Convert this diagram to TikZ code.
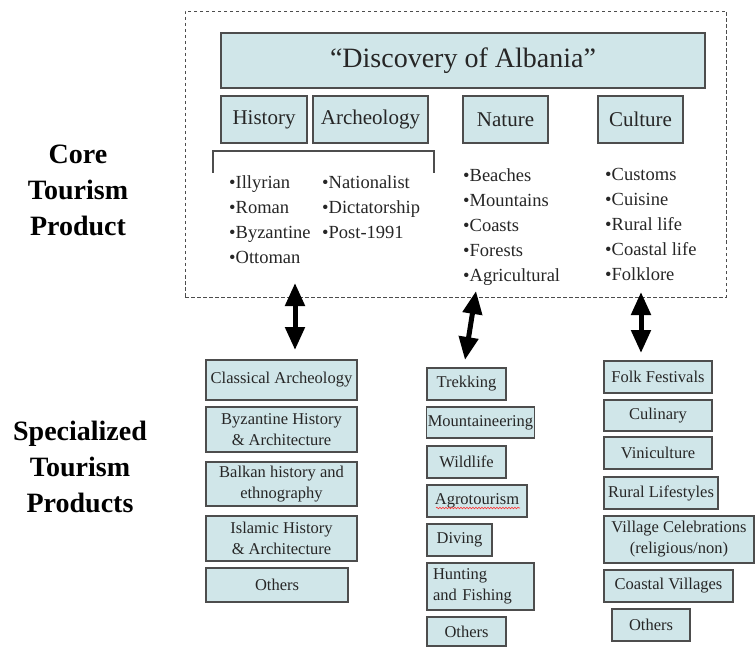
\documentclass[tikz,border=0pt]{standalone}
\usepackage{fontspec}
\setmainfont{Liberation Serif}
\usetikzlibrary{arrows.meta,decorations.pathmorphing}
\definecolor{boxfill}{HTML}{D0E6E9}
\definecolor{boxline}{HTML}{4D4D4D}
\definecolor{txt}{HTML}{262626}
\newcommand{\bx}[7][]{\node[box,#1,minimum width={#5-#3},minimum height={#6-#4}] (#2) at ({(#3+#5)/2},{(#4+#6)/2}) {#7};}
\begin{document}
\begin{tikzpicture}[x=1pt,y=-1pt,
  box/.style={draw=boxline,fill=boxfill,line width=1.3pt,inner sep=1pt,text=txt,align=center,font=\fontsize{16.5}{21}\selectfont},
  cat/.style={font=\fontsize{21}{24}\selectfont},
  lst/.style={anchor=north west,inner sep=0pt,align=left,text=txt,font=\fontsize{18.5}{25}\selectfont},
  side/.style={align=center,inner sep=0pt,font=\fontsize{28}{36}\selectfont\bfseries},
  dbl/.style={line width=5pt,{Triangle[width=19pt,length=23pt]}-{Triangle[width=19pt,length=23pt]}},
  brk/.style={draw=boxline,line width=1.2pt}
]
\useasboundingbox (0,0) rectangle (755,647);

% core frame
\node[draw=boxline,dash pattern=on 3.5pt off 2.5pt,line width=0.9pt,minimum width=541,minimum height=286,inner sep=0pt] (core) at (455.5,154) {};

% title and categories
\bx[font=\fontsize{28}{32}\selectfont]{title}{221}{33}{705}{88}{“Discovery of Albania”}
\bx[cat]{hist}{221}{96}{307}{143}{History}
\bx[cat]{arch}{313}{96}{428}{143}{Archeology}
\bx[cat]{nat}{463}{96}{548}{143}{Nature}
\bx[cat]{cul}{598}{96}{683}{143}{Culture}

% bracket
\draw[brk] (213,173) |- (434,151) -- (434,173);

% lists
\node[lst] (l1) at (229,175.5) {•Illyrian\\•Roman\\•Byzantine\\•Ottoman};
\node[lst] (l2) at (322,175.5) {•Nationalist\\•Dictatorship\\•Post-1991};
\node[lst] (l3) at (463,168) {•Beaches\\•Mountains\\•Coasts\\•Forests\\•Agricultural};
\node[lst] (l4) at (605,168) {•Customs\\•Cuisine\\•Rural life\\•Coastal life\\•Folklore};

% side labels
\node[side] (core lbl) at (78,190) {Core\\Tourism\\Product};
\node[side] (spec lbl) at (80,467) {Specialized\\Tourism\\Products};

% arrows
\coordinate (a1) at (295,283); \coordinate (b1) at (295,350);
\coordinate (a2) at (476,291); \coordinate (b2) at (465,360);
\coordinate (a3) at (641,292); \coordinate (b3) at (641,353);
\draw[dbl] (a1) -- (b1);
\draw[dbl] (a2) -- (b2);
\draw[dbl] (a3) -- (b3);

% left column
\bx{ca}{206}{360}{357}{400}{Classical Archeology}
\bx{bh}{206}{407}{357}{452}{Byzantine History\\\& Architecture}
\bx{bk}{206}{462}{357}{506}{Balkan history and\\ethnography}
\bx{ih}{206}{516}{357}{561}{Islamic History\\\& Architecture}
\bx{lo}{206}{568}{348}{602}{Others}

% middle column
\bx{tr}{427}{368}{506}{400}{Trekking}
\bx{mo}{427}{407}{534}{438}{Mountaineering}
\bx{wi}{427}{446}{506}{478}{Wildlife}
\bx{ag}{427}{485}{527}{517}{Agrotourism}
\bx{di}{427}{524}{492}{556}{Diving}
\bx[text width=95pt,align=left,inner xsep=6pt]{hf}{427}{563}{534}{610}{Hunting\\and Fishing}
\bx{mother}{427}{617}{506}{646}{Others}
\draw[red!80,line width=0.6pt,decorate,decoration={snake,amplitude=0.8pt,segment length=3pt}] (436,508) -- (520,508);

% right column
\bx{ff}{604}{361}{712}{393}{Folk Festivals}
\bx{cu}{604}{400}{712}{431}{Culinary}
\bx{vi}{604}{437}{712}{469}{Viniculture}
\bx{rl}{604}{477}{718}{509}{Rural Lifestyles}
\bx{vc}{604}{516}{754}{563}{Village Celebrations\\(religious/non)}
\bx{cv}{604}{570}{733}{602}{Coastal Villages}
\bx{ro}{612}{609}{690}{641}{Others}
\end{tikzpicture}
\end{document}
